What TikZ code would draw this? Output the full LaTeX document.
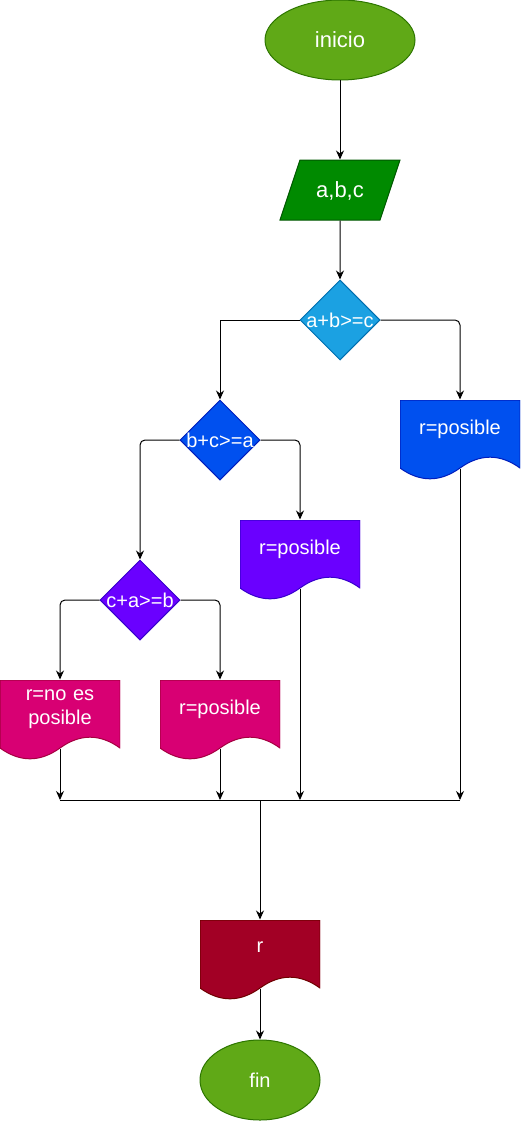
\documentclass[tikz,border=0pt]{standalone}
\usepackage{fontspec}
\setmainfont{Liberation Sans}
\usetikzlibrary{shapes.geometric, arrows.meta, positioning}

\definecolor{verdeclaro}{HTML}{60A917}
\definecolor{verdeclaroborde}{HTML}{2D7600}
\definecolor{verde}{HTML}{008A00}
\definecolor{verdeborde}{HTML}{005700}
\definecolor{celeste}{HTML}{1BA1E2}
\definecolor{celesteborde}{HTML}{006EAF}
\definecolor{azul}{HTML}{0050EF}
\definecolor{azulborde}{HTML}{001DBC}
\definecolor{violeta}{HTML}{6A00FF}
\definecolor{violetaborde}{HTML}{3700CC}
\definecolor{rosa}{HTML}{D80073}
\definecolor{rosaborde}{HTML}{A50040}
\definecolor{granate}{HTML}{A20025}
\definecolor{granateborde}{HTML}{6F0000}

\tikzstyle{terminal} = [draw, ellipse, minimum height=80pt, text=white]
\tikzstyle{io} = [draw, trapezium, trapezium left angle=71.6, trapezium right angle=108.4,
  trapezium stretches body=true, minimum width=120pt, inner ysep=0pt, text height=37pt, text depth=23pt, text=white]
\tikzstyle{decision} = [draw, diamond, minimum width=80pt, minimum height=80pt, inner sep=-3pt, text=white]
\tikzset{doc/.style 2 args={rectangle, minimum width=120pt, minimum height=80pt, inner sep=0pt,
    text width=110pt, align=center, text depth=26pt, text=white,
    path picture={
      \coordinate (dse) at (path picture bounding box.south east);
      \coordinate (dsw) at (path picture bounding box.south west);
      \filldraw[fill=#1, draw=#2] (path picture bounding box.north west)
        -- (path picture bounding box.north east) -- ([yshift=12pt]dse)
        .. controls +(-20pt,14.4pt) and +(20pt,14.4pt) .. ([shift={(-60pt,12pt)}]dse)
        .. controls +(-20pt,-14.4pt) and +(20pt,-14.4pt) .. ([yshift=12pt]dsw) -- cycle;
    }}}

\begin{document}
\begin{tikzpicture}[x=1pt, y=1pt, >={Stealth[length=9pt,width=8pt]}, line width=1pt,
    font=\fontsize{20}{24}\selectfont]
  \useasboundingbox (0,0) rectangle (521,-1121);
  \node[terminal, fill=verdeclaro, draw=verdeclaroborde, minimum width=150pt, font=\fontsize{22}{26}\selectfont] (inicio) at (340,-40) {inicio};
  \node[io, fill=verde, draw=verdeborde, below of=inicio, node distance=150pt, font=\fontsize{22}{26}\selectfont] (datos) {a,b,c};
  \node[decision, fill=celeste, draw=celesteborde, below of=datos, node distance=130pt] (dec1) {a+b>=c};
  \node[decision, fill=azul, draw=azulborde, below of=dec1, node distance=120pt, xshift=-120pt] (dec2) {b+c>=a};
  \node[doc={azul}{azulborde}, right of=dec2, node distance=240pt] (doc1) {r=posible};
  \node[decision, fill=violeta, draw=violetaborde, below of=dec2, node distance=160pt, xshift=-80pt] (dec3) {c+a>=b};
  \node[doc={violeta}{violetaborde}, below of=dec2, node distance=120pt, xshift=80pt] (doc2) {r=posible};
  \node[doc={rosa}{rosaborde}, below of=dec3, node distance=120pt, xshift=-80pt, text depth=50pt] (doc3) {r=no es\\posible};
  \node[doc={rosa}{rosaborde}, below of=dec3, node distance=120pt, xshift=80pt] (doc4) {r=posible};
  \coordinate[below of=doc3, node distance=80pt] (m1);
  \coordinate[below of=doc4, node distance=80pt] (m2);
  \coordinate[right of=m2, node distance=40pt] (union);
  \coordinate[right of=m2, node distance=80pt] (m3);
  \coordinate[right of=m2, node distance=240pt] (m4);
  \node[doc={granate}{granateborde}, below of=union, node distance=160pt] (res) {r};
  \node[terminal, fill=verdeclaro, draw=verdeclaroborde, minimum width=120pt, below of=res, node distance=120pt] (fin) {fin};
  \draw[->] (inicio) -- (datos);
  \draw[->] (datos) -- (dec1);
  \draw[->] (dec1.west) -| (dec2.north);
  \draw[->, rounded corners=5pt] (dec1.east) -| (doc1.north);
  \draw[->, rounded corners=5pt] (dec2.west) -| (dec3.north);
  \draw[->, rounded corners=5pt] (dec2.east) -| (doc2.north);
  \draw[->, rounded corners=5pt] (dec3.west) -| (doc3.north);
  \draw[->, rounded corners=5pt] (dec3.east) -| (doc4.north);
  \draw (m1) -- (m4);
  \draw[->] ([yshift=12pt]doc3.south) -- (m1);
  \draw[->] ([yshift=12pt]doc4.south) -- (m2);
  \draw[->] ([yshift=12pt]doc2.south) -- (m3);
  \draw[->] ([yshift=12pt]doc1.south) -- (m4);
  \draw[->] (union) -- (res.north);
  \draw[->] ([yshift=12pt]res.south) -- (fin);
\end{tikzpicture}
\end{document}
